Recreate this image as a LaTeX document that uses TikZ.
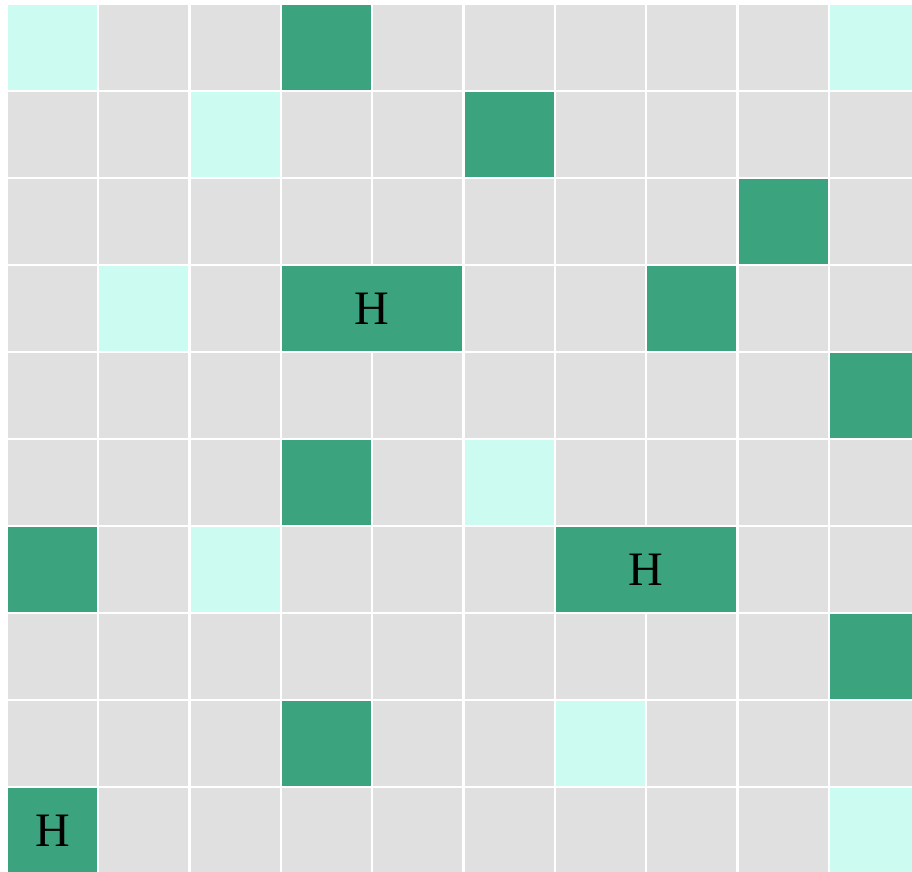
\documentclass[tikz,border=0pt]{standalone}
\usepackage{fontspec}
\setmainfont{Liberation Serif}
\definecolor{cellgray}{HTML}{E0E0E0}
\definecolor{cellmint}{HTML}{CCFBF1}
\definecolor{cellgreen}{HTML}{3BA37E}
\tikzset{
  cell/.style={fill=cellgray, draw=none, inner sep=0pt, outer sep=0pt, minimum width=89pt, minimum height=85pt},
  mintcell/.style={cell, fill=cellmint},
  greencell/.style={cell, fill=cellgreen, font=\fontsize{48}{48}\selectfont},
  widecell/.style={greencell, minimum width=180.33pt}
}
\begin{document}
\begin{tikzpicture}[x=1pt,y=-1pt]
\useasboundingbox (0,0) rectangle (912,871);
\clip (0,0) rectangle (912,871);
\fill[white] (0,0) rectangle (912,871);
\foreach \i in {0,...,9} {
  \foreach \j in {0,...,9} {
    \node[cell] (c\i-\j) at ({52.5+91.33*\i},{47.5+87*\j}) {};
  }
}
\foreach \i/\j in {0/0,9/0,2/1,1/3,5/5,2/6,6/8,9/9} {
  \node[mintcell] (m\i-\j) at ({52.5+91.33*\i},{47.5+87*\j}) {};
}
\foreach \i/\j in {3/0,5/1,8/2,7/3,9/4,3/5,0/6,9/7,3/8} {
  \node[greencell] (g\i-\j) at ({52.5+91.33*\i},{47.5+87*\j}) {};
}
\node[widecell] (h1) at ({8+91.33*3+90.17},{47.5+87*3}) {H};
\node[widecell] (h2) at ({8+91.33*6+90.17},{47.5+87*6}) {H};
\node[greencell] (h3) at ({52.5},{47.5+87*9}) {H};
\end{tikzpicture}
\end{document}
